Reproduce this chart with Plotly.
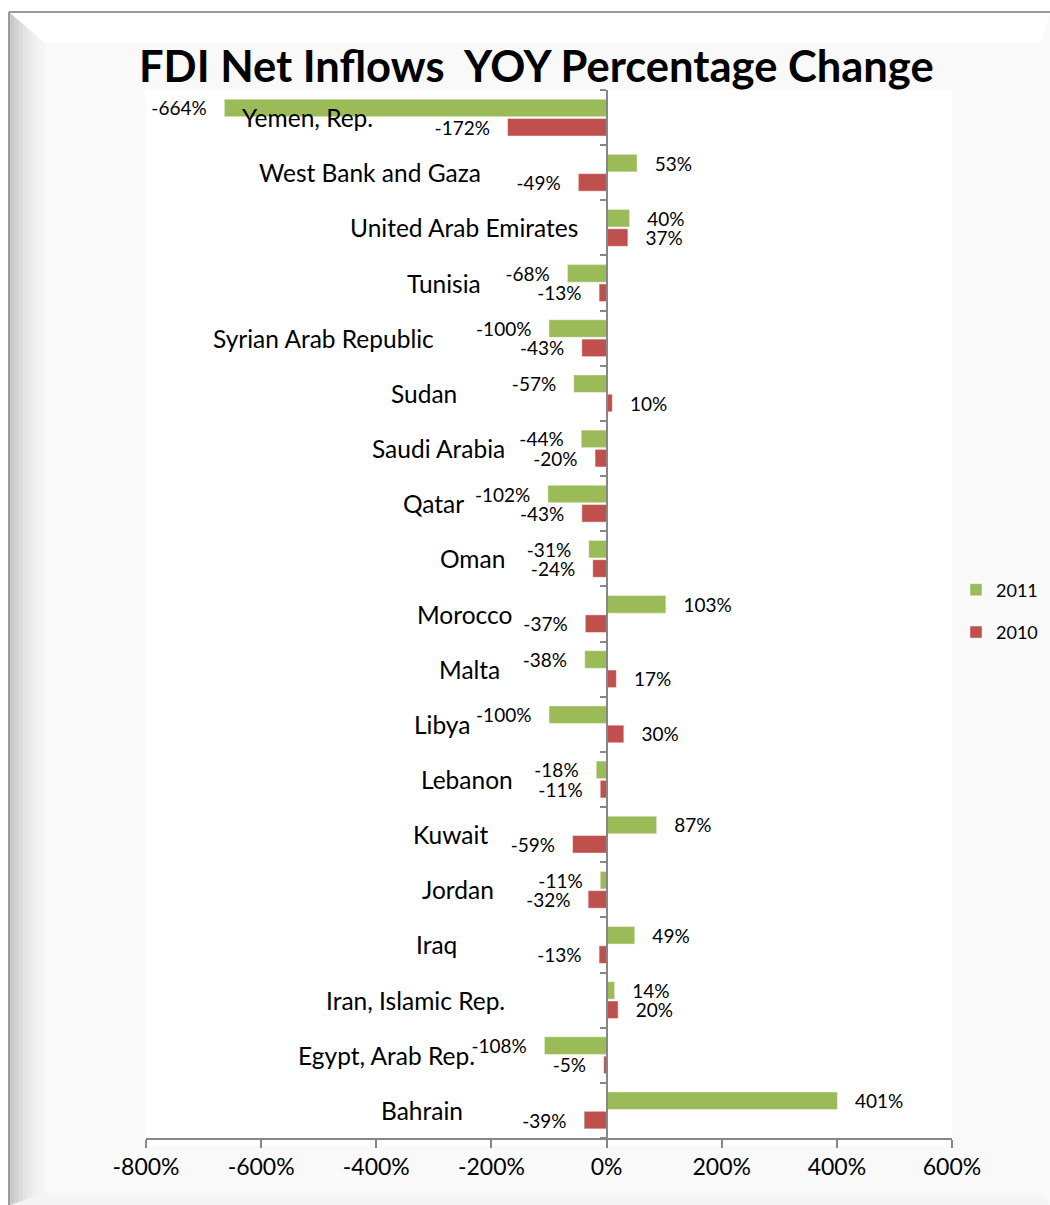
import plotly.graph_objects as go

# ---- data -------------------------------------------------------------
countries = [
    "Bahrain", "Egypt, Arab Rep.", "Iran, Islamic Rep.", "Iraq", "Jordan",
    "Kuwait", "Lebanon", "Libya", "Malta", "Morocco", "Oman", "Qatar",
    "Saudi Arabia", "Sudan", "Syrian Arab Republic", "Tunisia",
    "United Arab Emirates", "West Bank and Gaza", "Yemen, Rep.",
]
change_2011 = [401, -108, 14, 49, -11, 87, -18, -100, -38, 103, -31, -102,
               -44, -57, -100, -68, 40, 53, -664]
change_2010 = [-39, -5, 20, -13, -32, -59, -11, 30, 17, -37, -24, -43,
               -20, 10, -43, -13, 37, -49, -172]
x_tick_values = [-800, -600, -400, -200, 0, 200, 400, 600]
x_tick_labels = ["-800%", "-600%", "-400%", "-200%", "0%", "200%", "400%", "600%"]

# ---- layout geometry (pixels) -------------------------------------------
W, H = 1050, 1205
PL, PR, PT, PB = 146, 952, 90, 1138          # plot-area edges
# right edge of each category caption, same order as countries
caption_right = [465, 477, 507, 459, 496, 490, 515, 472, 502, 514, 507, 466,
                 507, 459, 436, 483, 580, 483, 375]

FONT = "Lato"
GREEN = "#9BBB59"
RED = "#C0504D"
AXIS = "#878787"
NB = "\u00a0"


def px(x):
    return (x - PL) / (PR - PL)


def py(y):
    return (PB - y) / (PB - PT)


def value_text(values):
    out = []
    for v in values:
        s = f"{v}%"
        out.append(NB * 3 + s if v >= 0 else s + NB * 3)
    return out


fig = go.Figure()
# 2010 is added first so that the 2011 bar sits above it in each pair
for name, vals, col, rank in [("2010", change_2010, RED, 2),
                              ("2011", change_2011, GREEN, 1)]:
    fig.add_trace(go.Bar(
        y=countries, x=vals, orientation="h", name=name, legendgroup=name,
        legendrank=rank,
        marker=dict(color=col, line=dict(color="rgba(255,255,255,0.55)", width=0.8)),
        text=value_text(vals), textposition="outside", constraintext="none",
        textfont=dict(family=FONT, size=19, color="black"),
        cliponaxis=False, hoverinfo="skip",
    ))

# ---- frame / background shapes --------------------------------------------
shapes = []


def rect(x0, y0, x1, y1, color):
    shapes.append(dict(type="rect", xref="paper", yref="paper", layer="below",
                       x0=px(x0), x1=px(x1), y0=py(y0), y1=py(y1),
                       fillcolor=color, line=dict(width=0)))


def poly(pts, color):
    path = "M " + " L ".join(f"{px(a)},{py(b)}" for a, b in pts) + " Z"
    shapes.append(dict(type="path", xref="paper", yref="paper", layer="below",
                       path=path, fillcolor=color, line=dict(width=0)))


rect(10, 13, W, H, "#f9f9f9")
# left bevel gradient
bevel = ["#c9c9c9", "#d3d3d3", "#dcdcdc", "#e3e3e3", "#e9e9e9", "#eeeeee",
         "#f2f2f2", "#f5f5f5"]
step = 35 / len(bevel)
for i, c in enumerate(bevel):
    rect(10 + i * step, 13, 10 + (i + 1) * step + 0.5, H, c)
poly([(10, 13), (W, 13), (1040, 43), (45, 43)], "#ffffff")
poly([(45, 1193), (1040, 1193), (W, H), (10, H)], "#f5f5f5")
rect(PL - 1, PT, PR, 1146, "#ffffff")
# outer border
shapes.append(dict(type="line", xref="paper", yref="paper", layer="above",
                   x0=px(9), x1=px(9), y0=py(12), y1=py(H),
                   line=dict(color="#9a9a9a", width=2)))
shapes.append(dict(type="line", xref="paper", yref="paper", layer="above",
                   x0=px(9), x1=px(W), y0=py(12), y1=py(12),
                   line=dict(color="#9a9a9a", width=2)))

# ---- annotations: title and category captions ----------------------------
annotations = [dict(
    text=f"<b>FDI Net Inflows{NB} YOY Percentage Change</b>",
    xref="paper", yref="paper", x=px(536.5), y=py(65),
    xanchor="center", yanchor="middle", showarrow=False,
    font=dict(family=FONT, size=43.5, color="black"),
)]
for name, xr in zip(countries, caption_right):
    annotations.append(dict(
        text=name, xref="paper", yref="y", x=px(xr), y=name,
        xanchor="right", yanchor="middle", showarrow=False,
        font=dict(family=FONT, size=24.5, color="black"),
    ))

fig.update_layout(
    width=W, height=H, autosize=False,
    margin=dict(l=PL, r=W - PR, t=PT, b=H - PB, autoexpand=False),
    paper_bgcolor="white", plot_bgcolor="white",
    barmode="group", bargap=0.30, bargroupgap=0.09,
    shapes=shapes, annotations=annotations,
    showlegend=True,
    legend=dict(x=px(956), y=py(611), xanchor="left", yanchor="middle",
                traceorder="grouped", tracegroupgap=16,
                font=dict(family=FONT, size=18, color="black"),
                bgcolor="rgba(0,0,0,0)"),
    xaxis=dict(range=[-800, 600], tickvals=x_tick_values, ticktext=x_tick_labels,
               showgrid=False, zeroline=False, showline=True, linecolor=AXIS,
               linewidth=1.5, ticks="outside", ticklen=8, tickcolor=AXIS,
               tickwidth=1.5, tickfont=dict(family=FONT, size=23, color="black"),
               fixedrange=True),
    yaxis=dict(type="category", categoryorder="array", categoryarray=countries,
               anchor="free", position=4 / 7, side="left",
               showline=True, linecolor=AXIS, linewidth=2,
               ticks="outside", tickson="boundaries", ticklen=6,
               tickcolor=AXIS, tickwidth=1.5, showticklabels=False,
               showgrid=False, zeroline=False, fixedrange=True),
)

fig.write_html("out.html")
